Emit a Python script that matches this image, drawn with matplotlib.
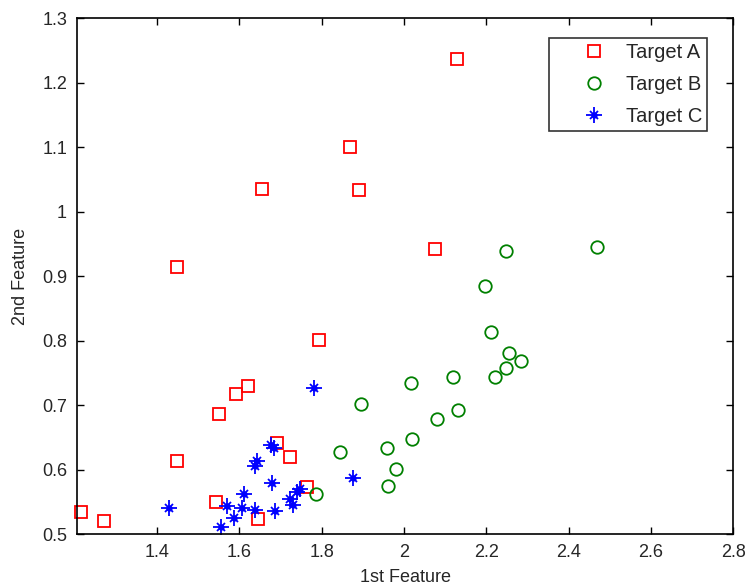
import matplotlib
matplotlib.use("Agg")
import matplotlib.pyplot as plt
from matplotlib.lines import Line2D

plt.rcParams['font.family'] = ['Liberation Sans', 'DejaVu Sans']

# Target A (red squares)
a_x = [2.129, 1.868, 1.656, 1.890, 2.076, 1.449, 1.793, 1.620, 1.591, 1.550,
       1.691, 1.449, 1.724, 1.763, 1.544, 1.646, 1.214, 1.272]
a_y = [1.236, 1.100, 1.035, 1.033, 0.942, 0.914, 0.801, 0.729, 0.717, 0.687,
       0.641, 0.613, 0.620, 0.573, 0.550, 0.524, 0.534, 0.520]

# Target B (green circles)
b_x = [2.247, 2.468, 2.196, 2.211, 2.254, 2.284, 2.248, 2.222, 2.119, 2.016,
       1.895, 2.130, 2.081, 2.020, 1.844, 1.958, 1.980, 1.961, 1.785]
b_y = [0.939, 0.946, 0.885, 0.813, 0.781, 0.769, 0.757, 0.743, 0.743, 0.734,
       0.702, 0.692, 0.678, 0.648, 0.627, 0.634, 0.601, 0.575, 0.562]

# Target C (blue stars)
c_x = [1.781, 1.677, 1.685, 1.643, 1.639, 1.680, 1.877, 1.430, 1.610, 1.570,
       1.607, 1.637, 1.687, 1.588, 1.555, 1.724, 1.731, 1.741, 1.748]
c_y = [0.727, 0.638, 0.634, 0.614, 0.606, 0.580, 0.587, 0.541, 0.562, 0.543,
       0.541, 0.538, 0.536, 0.525, 0.511, 0.555, 0.546, 0.566, 0.570]

labels = ['Target A', 'Target B', 'Target C']
x_ticks = [1.4, 1.6, 1.8, 2.0, 2.2, 2.4, 2.6, 2.8]
x_tick_labels = ['1.4', '1.6', '1.8', '2', '2.2', '2.4', '2.6', '2.8']
y_ticks = [0.5, 0.6, 0.7, 0.8, 0.9, 1.0, 1.1, 1.2, 1.3]
y_tick_labels = ['0.5', '0.6', '0.7', '0.8', '0.9', '1', '1.1', '1.2', '1.3']

RED, GREEN, BLUE = '#ff0000', '#008000', '#0000ff'
FS = 13
LFS = 14.5
TXT = '#262626'

fig = plt.figure(figsize=(7.46, 5.87), dpi=100)
ax = fig.add_axes([0.103, 0.090, 0.880, 0.879])

ax.plot(a_x, a_y, linestyle='none', marker='s', markersize=9, markerfacecolor='none',
        markeredgecolor=RED, markeredgewidth=1.3, clip_on=False)
ax.plot(b_x, b_y, linestyle='none', marker='o', markersize=9, markerfacecolor='none',
        markeredgecolor=GREEN, markeredgewidth=1.3, clip_on=False)
# MATLAB-style '*' = '+' overlaid with 'x'
ax.plot(c_x, c_y, linestyle='none', marker='+', markersize=11,
        markeredgecolor=BLUE, markeredgewidth=1.3, clip_on=False)
ax.plot(c_x, c_y, linestyle='none', marker='x', markersize=6,
        markeredgecolor=BLUE, markeredgewidth=1.3, clip_on=False)
ax.plot(c_x, c_y, linestyle='none', marker='o', markersize=3.5, markerfacecolor=BLUE,
        markeredgecolor=BLUE, clip_on=False)

ax.set_xlim(1.205, 2.8)
ax.set_ylim(0.5, 1.3)
ax.set_xticks(x_ticks)
ax.set_xticklabels(x_tick_labels)
ax.set_yticks(y_ticks)
ax.set_yticklabels(y_tick_labels)
ax.tick_params(direction='in', length=5, width=1, top=True, right=True, labelsize=FS,
               colors='black', labelcolor=TXT, pad=7)
for s in ax.spines.values():
    s.set_linewidth(1.2)

ax.set_xlabel('1st Feature', fontsize=FS, labelpad=6, color=TXT)
ax.set_ylabel('2nd Feature', fontsize=FS, labelpad=9, color=TXT)

handles = [
    Line2D([], [], linestyle='none', marker='s', markersize=9, markerfacecolor='none',
           markeredgecolor=RED, markeredgewidth=1.3),
    Line2D([], [], linestyle='none', marker='o', markersize=9, markerfacecolor='none',
           markeredgecolor=GREEN, markeredgewidth=1.3),
    (Line2D([], [], linestyle='none', marker='+', markersize=11, markeredgecolor=BLUE,
            markeredgewidth=1.3),
     Line2D([], [], linestyle='none', marker='x', markersize=6, markeredgecolor=BLUE,
            markeredgewidth=1.3),
     Line2D([], [], linestyle='none', marker='o', markersize=3.5, markerfacecolor=BLUE,
            markeredgecolor=BLUE)),
]
leg = ax.legend(handles, labels, loc='upper right', bbox_to_anchor=(0.960, 0.961),
                fontsize=LFS, frameon=True, fancybox=False, edgecolor='black',
                borderpad=0.236, handlelength=4.0, handletextpad=-0.41, labelspacing=0.645,
                borderaxespad=0)
for t in leg.get_texts():
    t.set_color(TXT)
leg.get_frame().set_linewidth(1.2)

fig.savefig('out.png', dpi=100)
